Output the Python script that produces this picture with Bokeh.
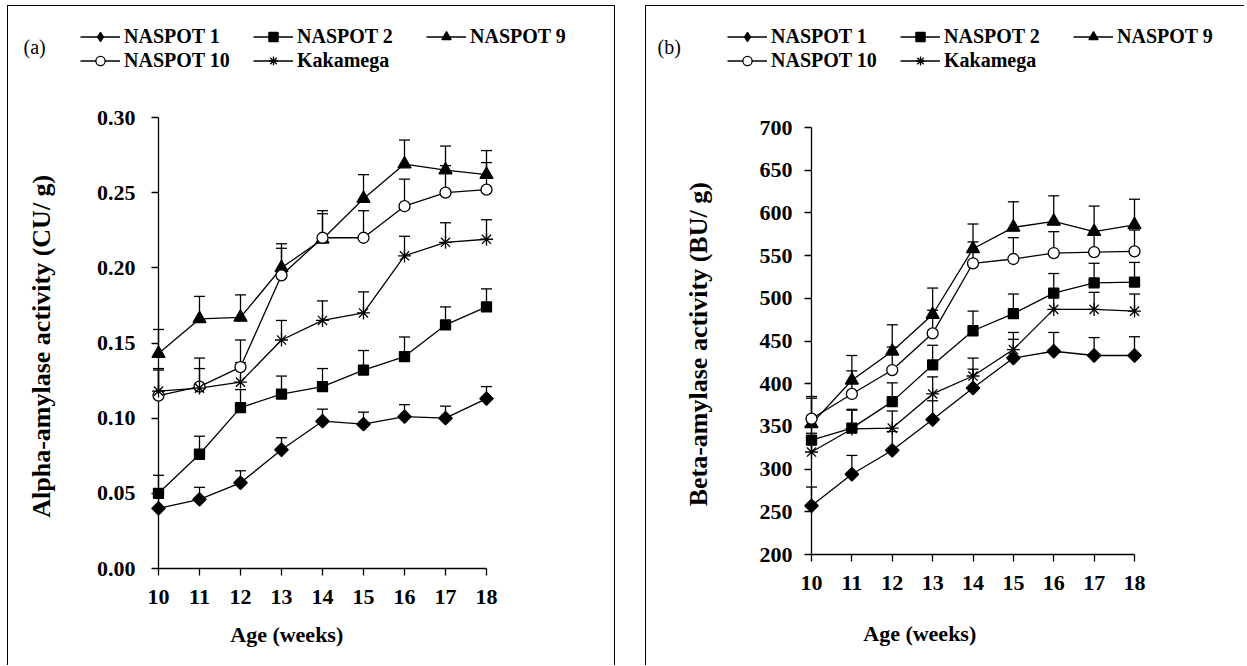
from bokeh.plotting import figure
from bokeh.models import (Range1d, ColumnDataSource, Legend, LegendItem, Label,
                          FixedTicker, NumeralTickFormatter)
from bokeh.core.properties import value
from bokeh.layouts import row, column
from bokeh.embed import file_html
from bokeh.resources import INLINE

weeks = [10, 11, 12, 13, 14, 15, 16, 17, 18]
series_names = ["NASPOT 1", "NASPOT 2", "NASPOT 9", "NASPOT 10", "Kakamega"]

# (a) Alpha-amylase activity (CU/ g)
alpha_naspot1 = [0.040, 0.046, 0.057, 0.079, 0.098, 0.096, 0.101, 0.100, 0.113]
alpha_naspot1_err = [0.008, 0.008, 0.008, 0.008, 0.008, 0.008, 0.008, 0.008, 0.008]
alpha_naspot2 = [0.050, 0.076, 0.107, 0.116, 0.121, 0.132, 0.141, 0.162, 0.174]
alpha_naspot2_err = [0.012, 0.012, 0.012, 0.012, 0.012, 0.013, 0.013, 0.012, 0.012]
alpha_naspot9 = [0.143, 0.166, 0.167, 0.200, 0.219, 0.246, 0.269, 0.265, 0.262]
alpha_naspot9_err = [0.016, 0.015, 0.015, 0.016, 0.019, 0.016, 0.016, 0.016, 0.016]
alpha_naspot10 = [0.115, 0.121, 0.134, 0.195, 0.220, 0.220, 0.241, 0.250, 0.252]
alpha_naspot10_err = [0.018, 0.019, 0.018, 0.018, 0.016, 0.018, 0.018, 0.018, 0.018]
alpha_kakamega = [0.118, 0.120, 0.124, 0.152, 0.165, 0.170, 0.208, 0.217, 0.219]
alpha_kakamega_err = [0.014, 0.013, 0.013, 0.013, 0.013, 0.014, 0.013, 0.013, 0.013]
alpha_ticks = [0.00, 0.05, 0.10, 0.15, 0.20, 0.25, 0.30]

# (b) Beta-amylase activity (BU/ g)
beta_naspot1 = [257, 294, 322, 358, 395, 430, 438, 433, 433]
beta_naspot1_err = [22, 22, 22, 22, 22, 22, 22, 21, 22]
beta_naspot2 = [334, 348, 379, 422, 462, 482, 506, 518, 519]
beta_naspot2_err = [22, 22, 22, 23, 23, 23, 23, 23, 23]
beta_naspot9 = [353, 404, 438, 481, 558, 583, 590, 578, 586]
beta_naspot9_err = [30, 29, 31, 31, 29, 30, 30, 30, 30]
beta_naspot10 = [359, 388, 416, 459, 541, 546, 553, 554, 555]
beta_naspot10_err = [26, 27, 27, 27, 25, 25, 25, 25, 25]
beta_kakamega = [320, 347, 348, 388, 409, 440, 487, 487, 485]
beta_kakamega_err = [22, 22, 20, 20, 21, 20, 20, 20, 20]
beta_ticks = [200, 250, 300, 350, 400, 450, 500, 550, 600, 650, 700]

MARKERS = ["square", "square", "triangle", "circle", "asterisk"]
LEGEND_MARKERS = ["diamond", "square", "triangle", "circle", "asterisk"]
ANGLES = [0.785398, 0.0, 0.0, 0.0, 0.0]
SIZES = [9.5, 10, 13, 11, 13]
FILLS = ["black", "black", "black", "white", "black"]
SERIF = "Liberation Serif"
LW = 1.3
LEG_H = 80
FS = "22px"


def make_legend_strip(tag, values, width, legend_x, tag_loc):
    # strip above the axes that carries the legend and the panel tag
    q = figure(width=width, height=LEG_H, output_backend="svg", toolbar_location=None,
               x_range=Range1d(0, 1), y_range=Range1d(0, 1),
               x_axis_type=None, y_axis_type=None,
               min_border_left=0, min_border_right=0, min_border_top=0, min_border_bottom=0)
    q.outline_line_color = None
    q.grid.visible = False
    # legend proxies: the series themselves, lying outside this strip's visible range
    lines = [q.line(weeks, vals, line_color="black", line_width=LW) for vals in values]
    pts = [q.scatter(weeks, vals, marker=mk, size=sz, fill_color=fc,
                     line_color="black", line_width=LW)
           for vals, mk, sz, fc in zip(values, LEGEND_MARKERS, SIZES, FILLS)]
    items = [LegendItem(label=n, renderers=[l, s]) for n, l, s in zip(series_names, lines, pts)]
    for start, stop, vy in ((0, 3, 38), (3, 5, 14)):
        legend = Legend(items=items[start:stop], orientation="horizontal",
                        location=(legend_x, vy),
                        border_line_color=None, background_fill_alpha=0,
                        label_text_font=SERIF, label_text_font_style="bold",
                        label_text_font_size="20px", label_text_color="black",
                        glyph_width=40, glyph_height=23, label_height=20,
                        label_standoff=4, label_width=129, spacing=0, padding=0, margin=0)
        q.add_layout(legend, "center")
    q.add_layout(Label(x=tag_loc[0], y=tag_loc[1], x_units="screen", y_units="screen",
                       text=tag, text_font=SERIF, text_font_size="20px",
                       text_color="black", text_baseline="alphabetic"))
    return q


def make_axes(ylabel, yr, yticks, yfmt, values, errors, width, height,
              borders, ylab_standoff, ytick_standoff, xlab_off):
    left, right, top, bottom = borders
    p = figure(width=width, height=height, output_backend="svg", toolbar_location=None,
               x_range=Range1d(10, 18), y_range=Range1d(*yr),
               min_border_left=left, min_border_right=right,
               min_border_top=top, min_border_bottom=bottom)
    p.outline_line_color = None
    p.xgrid.visible = False
    p.ygrid.visible = False

    for ax in (p.xaxis[0], p.yaxis[0]):
        ax.axis_line_color = "black"
        ax.axis_line_width = LW
        ax.major_tick_line_color = "black"
        ax.major_tick_line_width = LW
        ax.major_tick_in = 0
        ax.major_tick_out = 7
        ax.minor_tick_line_color = None
        ax.major_label_text_font = SERIF
        ax.major_label_text_font_style = "bold"
        ax.major_label_text_font_size = FS
        ax.major_label_text_color = "black"
    p.xaxis.ticker = FixedTicker(ticks=weeks)
    p.xaxis.major_label_standoff = 14
    p.yaxis.ticker = FixedTicker(ticks=yticks)
    p.yaxis.formatter = NumeralTickFormatter(format=yfmt)
    p.yaxis.major_label_standoff = ytick_standoff
    p.yaxis.axis_label = ylabel
    p.yaxis.axis_label_text_font = SERIF
    p.yaxis.axis_label_text_font_style = "bold"
    p.yaxis.axis_label_text_font_size = "26px"
    p.yaxis.axis_label_text_color = "black"
    p.yaxis.axis_label_standoff = ylab_standoff

    for vals in values:
        p.line(weeks, vals, line_color="black", line_width=LW, level="overlay")
    for vals, err in zip(values, errors):
        src = ColumnDataSource(dict(x=weeks, y=vals, up=[v + e for v, e in zip(vals, err)]))
        p.segment(x0="x", y0="y", x1="x", y1="up", source=src, line_color="black",
                  line_width=LW, level="overlay")
        p.scatter(x="x", y="up", source=src, marker="dash", size=11, line_color="black",
                  line_width=LW, level="overlay")
    for vals, mk, ang, sz, fc in zip(values, MARKERS, ANGLES, SIZES, FILLS):
        p.scatter(weeks, vals, marker=mk, angle=ang, size=sz, fill_color=fc,
                  line_color="black", line_width=LW, level="overlay")

    # x-axis title, anchored at the axes origin
    p.text(x=[10], y=[yr[0]], text=["Age  (weeks)"], x_offset=xlab_off[0], y_offset=xlab_off[1],
           text_font=value(SERIF), text_font_style="bold", text_font_size=FS,
           text_color="black", text_align="center", text_baseline="middle", level="overlay")
    return p


alpha_vals = [alpha_naspot1, alpha_naspot2, alpha_naspot9, alpha_naspot10, alpha_kakamega]
alpha_errs = [alpha_naspot1_err, alpha_naspot2_err, alpha_naspot9_err, alpha_naspot10_err,
              alpha_kakamega_err]
beta_vals = [beta_naspot1, beta_naspot2, beta_naspot9, beta_naspot10, beta_kakamega]
beta_errs = [beta_naspot1_err, beta_naspot2_err, beta_naspot9_err, beta_naspot10_err,
             beta_kakamega_err]

MAIN_H = 579

leg_a = make_legend_strip("(a)", alpha_vals, 606, 72, (15, 40))
ax_a = make_axes("Alpha-amylase activity  (CU/ g)", (0, 0.30), alpha_ticks, "0.00",
                 alpha_vals, alpha_errs, 606, MAIN_H, (150, 128, 31, 97), 38, 16, (131, 66))
leg_b = make_legend_strip("(b)", beta_vals, 598, 81, (11, 40))
ax_b = make_axes("Beta-amylase activity  (BU/ g)", (200, 700), beta_ticks, "0",
                 beta_vals, beta_errs, 598, MAIN_H, (165, 110, 41, 111), 44, 12, (111, 79))

panel_a = column(column(leg_a), column(ax_a), spacing=0, margin=(5, 0, 0, 7),
                 styles={"border-left": "1px solid black", "border-top": "1px solid black",
                         "border-right": "1px solid black"})
panel_b = column(column(leg_b), column(ax_b), spacing=0, margin=(5, 0, 0, 30),
                 styles={"border-left": "1px solid black", "border-top": "1px solid black"})

layout = row(panel_a, panel_b)
open("out.html", "w").write(file_html(layout, INLINE))
